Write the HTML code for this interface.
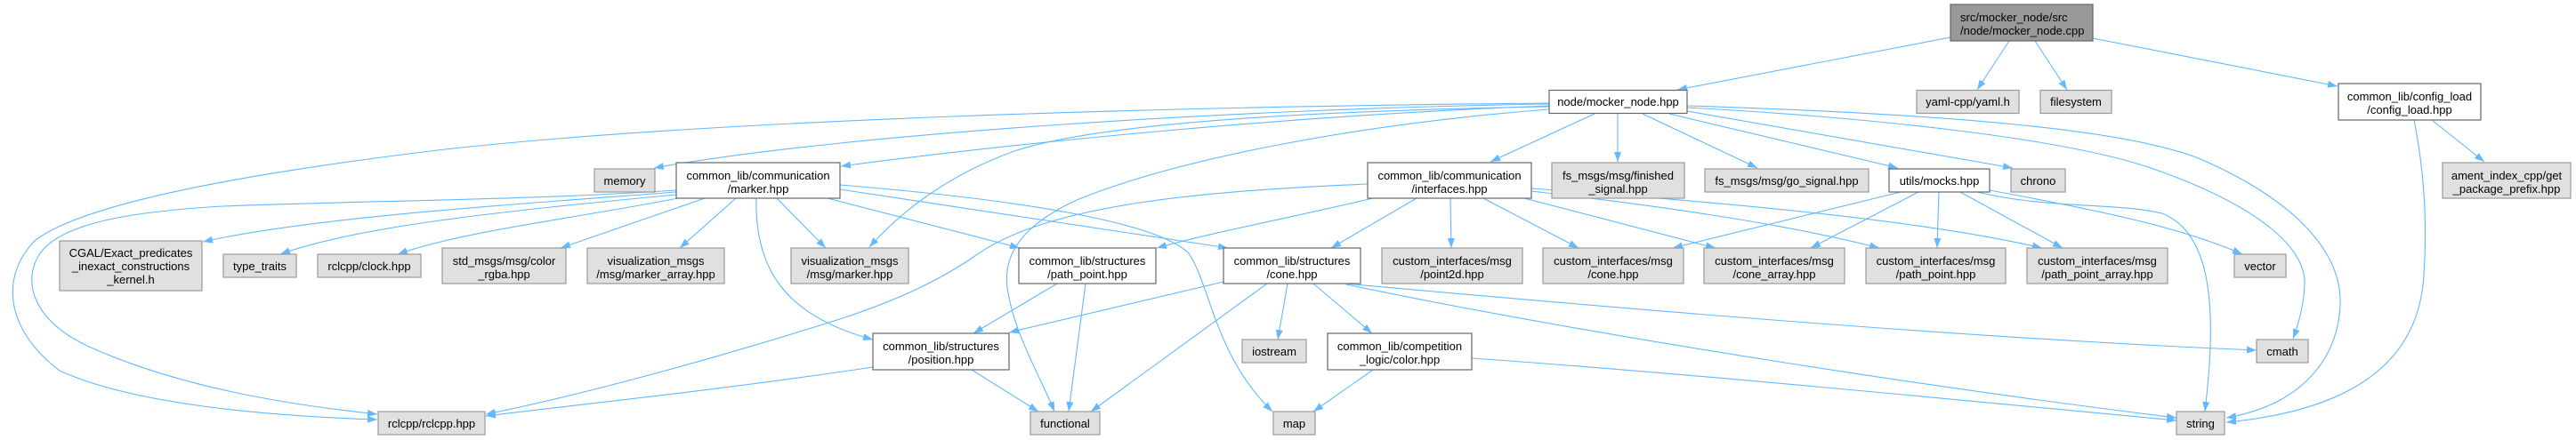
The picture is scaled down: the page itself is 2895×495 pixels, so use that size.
<!DOCTYPE html>
<html><head><meta charset="utf-8"><style>
html,body{margin:0;padding:0;background:#fff;}
svg{display:block;}
.e{fill:none;stroke:#63b8ff;stroke-width:1.1;marker-end:url(#a);}
.g{fill:#e0e0e0;stroke:#999;stroke-width:1.2;}
.w{fill:#fff;stroke:#666;stroke-width:1.2;}
.r{fill:#999;stroke:#666;stroke-width:1.2;}
text{font-family:"Liberation Sans",Arial,sans-serif;font-size:13px;fill:#000;text-anchor:middle;}
</style></head><body>
<svg width="2895" height="495" viewBox="0 0 2895 495" xmlns="http://www.w3.org/2000/svg">
<defs><marker id="a" viewBox="0 0 11 8" refX="11" refY="4" markerWidth="11" markerHeight="8" markerUnits="userSpaceOnUse" orient="auto"><path d="M0,0 L11,4 L0,8 z" fill="#63b8ff"/></marker></defs>

<!-- edges -->
<path class="e" d="M2192,42 L1885,101"/>
<path class="e" d="M2258,46 L2222,101"/>
<path class="e" d="M2287,46 L2323,101"/>
<path class="e" d="M2352,43 L2627,97"/>
<path class="e" d="M2733,135 L2792,182"/>
<path class="e" d="M2713,135 C2724,190 2728,250 2724,310 C2718,410 2640,462 2502,475"/>
<path class="e" d="M1792,128 L1675,182"/>
<path class="e" d="M1818,128 L1818,182"/>
<path class="e" d="M1846,128 L1975,189"/>
<path class="e" d="M1876,128 L2133,189"/>
<path class="e" d="M1896,125 L2262,189"/>
<path class="e" d="M1896,121 C2100,132 2320,155 2420,190 C2540,232 2592,280 2590,320 C2589,345 2583,365 2577,381"/>
<path class="e" d="M1896,119 C2180,128 2400,145 2480,182 C2590,232 2632,290 2630,343 C2628,400 2590,455 2502,470"/>
<path class="e" d="M1741,116 C1300,120 800,135 500,168 C300,192 100,225 40,270 C0,310 5,370 67,417 C150,455 300,468 424,472"/>
<path class="e" d="M1741,117 C1400,122 950,150 735,189"/>
<path class="e" d="M1741,119 C1450,130 1150,160 945,187"/>
<path class="e" d="M1741,120 C1450,125 1230,140 1140,170 C1070,195 1015,235 977,278"/>
<path class="e" d="M1741,123 C1520,140 1320,180 1210,225 C1145,255 1125,290 1133,330 C1142,380 1170,425 1185,463"/>

<path class="e" d="M760,214 C600,225 400,226 250,232 C150,238 70,250 45,285 C25,315 35,360 100,390 C200,435 320,455 424,466"/>
<path class="e" d="M760,216 C550,232 350,245 228,272"/>
<path class="e" d="M760,219 C560,238 400,255 315,286"/>
<path class="e" d="M762,223 C650,245 520,260 447,286"/>
<path class="e" d="M792,223 L630,279"/>
<path class="e" d="M827,223 L764,279"/>
<path class="e" d="M873,223 L928,279"/>
<path class="e" d="M850,223 C848,300 880,355 981,382"/>
<path class="e" d="M930,223 L1146,279"/>
<path class="e" d="M944,213 L1380,279"/>
<path class="e" d="M944,208 C1150,225 1300,250 1336,285 C1360,320 1365,400 1430,463"/>

<path class="e" d="M1537,207 C1350,215 1180,230 1100,285 C1050,320 1000,340 950,357 C800,405 650,445 546,466"/>
<path class="e" d="M1592,223 L1496,279"/>
<path class="e" d="M1543,223 C1450,245 1360,262 1300,279"/>
<path class="e" d="M1630,223 L1631,279"/>
<path class="e" d="M1667,223 L1774,279"/>
<path class="e" d="M1713,223 L1928,279"/>
<path class="e" d="M1721,215 C1850,230 2000,250 2112,279"/>
<path class="e" d="M1721,212 C1900,225 2150,245 2295,279"/>

<path class="e" d="M2136,216 L1880,279"/>
<path class="e" d="M2156,216 L2035,279"/>
<path class="e" d="M2179,216 L2177,279"/>
<path class="e" d="M2203,216 L2318,279"/>
<path class="e" d="M2236,214 C2350,235 2450,255 2520,286"/>
<path class="e" d="M2222,216 C2300,235 2380,228 2430,240 C2480,260 2486,330 2484,390 C2483,420 2480,445 2478,463"/>

<path class="e" d="M1375,317 L1134,374"/>
<path class="e" d="M1424,319 L1226,463"/>
<path class="e" d="M1447,319 L1436,382"/>
<path class="e" d="M1476,319 L1542,375"/>
<path class="e" d="M1511,319 C1800,345 2200,380 2536,394"/>
<path class="e" d="M1513,320 C1800,380 2200,440 2446,470"/>

<path class="e" d="M1543,416 L1476,463"/>
<path class="e" d="M1654,403 C1900,420 2200,450 2446,473"/>
<path class="e" d="M1188,319 L1094,375"/>
<path class="e" d="M1220,319 L1201,463"/>
<path class="e" d="M981,413 C800,440 650,455 546,468"/>
<path class="e" d="M1092,416 L1167,463"/>

<!-- nodes -->
<rect class="r" x="2192" y="5" width="160" height="41"/>
<text x="2203" y="24" style="text-anchor:start">src/mocker_node/src</text>
<text x="2203" y="39" style="text-anchor:start">/node/mocker_node.cpp</text>

<rect class="w" x="1741" y="101.5" width="155" height="26"/>
<text x="1818.5" y="119">node/mocker_node.hpp</text>

<rect class="g" x="2154" y="101.5" width="115" height="26"/>
<text x="2211.5" y="119">yaml-cpp/yaml.h</text>

<rect class="g" x="2293" y="101.5" width="80" height="26"/>
<text x="2333" y="119">filesystem</text>

<rect class="w" x="2628" y="94" width="160" height="41"/>
<text x="2708" y="113">common_lib/config_load</text>
<text x="2708" y="128">/config_load.hpp</text>

<rect class="g" x="668" y="190" width="68" height="26"/>
<text x="702" y="208">memory</text>

<rect class="w" x="760" y="183" width="184" height="40"/>
<text x="852" y="202">common_lib/communication</text>
<text x="852" y="217">/marker.hpp</text>

<rect class="w" x="1537" y="183" width="184" height="40"/>
<text x="1629" y="202">common_lib/communication</text>
<text x="1629" y="217">/interfaces.hpp</text>

<rect class="g" x="1744" y="183" width="149" height="40"/>
<text x="1818.5" y="202">fs_msgs/msg/finished</text>
<text x="1818.5" y="217">_signal.hpp</text>

<rect class="g" x="1916" y="190" width="184" height="26"/>
<text x="2008" y="208">fs_msgs/msg/go_signal.hpp</text>

<rect class="w" x="2123" y="190" width="113" height="26"/>
<text x="2179.5" y="208">utils/mocks.hpp</text>

<rect class="g" x="2260" y="190" width="61" height="26"/>
<text x="2290.5" y="208">chrono</text>

<rect class="g" x="2745" y="183" width="144" height="40"/>
<text x="2817" y="202">ament_index_cpp/get</text>
<text x="2817" y="217">_package_prefix.hpp</text>

<rect class="g" x="67" y="271" width="160" height="56"/>
<text x="147" y="289">CGAL/Exact_predicates</text>
<text x="147" y="304">_inexact_constructions</text>
<text x="147" y="319">_kernel.h</text>

<rect class="g" x="251" y="286" width="82" height="26"/>
<text x="292" y="304">type_traits</text>

<rect class="g" x="357" y="286" width="116" height="26"/>
<text x="415" y="304">rclcpp/clock.hpp</text>

<rect class="g" x="497" y="279" width="139" height="40"/>
<text x="566.5" y="298">std_msgs/msg/color</text>
<text x="566.5" y="313">_rgba.hpp</text>

<rect class="g" x="660" y="279" width="154" height="40"/>
<text x="737" y="298">visualization_msgs</text>
<text x="737" y="313">/msg/marker_array.hpp</text>

<rect class="g" x="889" y="279" width="132" height="40"/>
<text x="955" y="298">visualization_msgs</text>
<text x="955" y="313">/msg/marker.hpp</text>

<rect class="w" x="1145" y="279" width="154" height="40"/>
<text x="1222" y="298">common_lib/structures</text>
<text x="1222" y="313">/path_point.hpp</text>

<rect class="w" x="1375" y="279" width="154" height="40"/>
<text x="1452" y="298">common_lib/structures</text>
<text x="1452" y="313">/cone.hpp</text>

<rect class="g" x="1553" y="279" width="158" height="40"/>
<text x="1632" y="298">custom_interfaces/msg</text>
<text x="1632" y="313">/point2d.hpp</text>

<rect class="g" x="1734" y="279" width="158" height="40"/>
<text x="1813" y="298">custom_interfaces/msg</text>
<text x="1813" y="313">/cone.hpp</text>

<rect class="g" x="1915" y="279" width="158" height="40"/>
<text x="1994" y="298">custom_interfaces/msg</text>
<text x="1994" y="313">/cone_array.hpp</text>

<rect class="g" x="2097" y="279" width="157" height="40"/>
<text x="2175.5" y="298">custom_interfaces/msg</text>
<text x="2175.5" y="313">/path_point.hpp</text>

<rect class="g" x="2278" y="279" width="158" height="40"/>
<text x="2357" y="298">custom_interfaces/msg</text>
<text x="2357" y="313">/path_point_array.hpp</text>

<rect class="g" x="2511" y="286" width="58" height="26"/>
<text x="2540" y="304">vector</text>

<rect class="w" x="981" y="375" width="153" height="41"/>
<text x="1057.5" y="394">common_lib/structures</text>
<text x="1057.5" y="409">/position.hpp</text>

<rect class="g" x="1396" y="382" width="72" height="26"/>
<text x="1432" y="400">iostream</text>

<rect class="w" x="1492" y="375" width="162" height="41"/>
<text x="1573" y="394">common_lib/competition</text>
<text x="1573" y="409">_logic/color.hpp</text>

<rect class="g" x="2536" y="382" width="58" height="26"/>
<text x="2565" y="400">cmath</text>

<rect class="g" x="425" y="463" width="120" height="26"/>
<text x="485" y="481">rclcpp/rclcpp.hpp</text>

<rect class="g" x="1158" y="463" width="78" height="26"/>
<text x="1197" y="481">functional</text>

<rect class="g" x="1431" y="463" width="47" height="26"/>
<text x="1454.5" y="481">map</text>

<rect class="g" x="2446" y="463" width="54" height="26"/>
<text x="2473" y="481">string</text>
</svg>
</body></html>
